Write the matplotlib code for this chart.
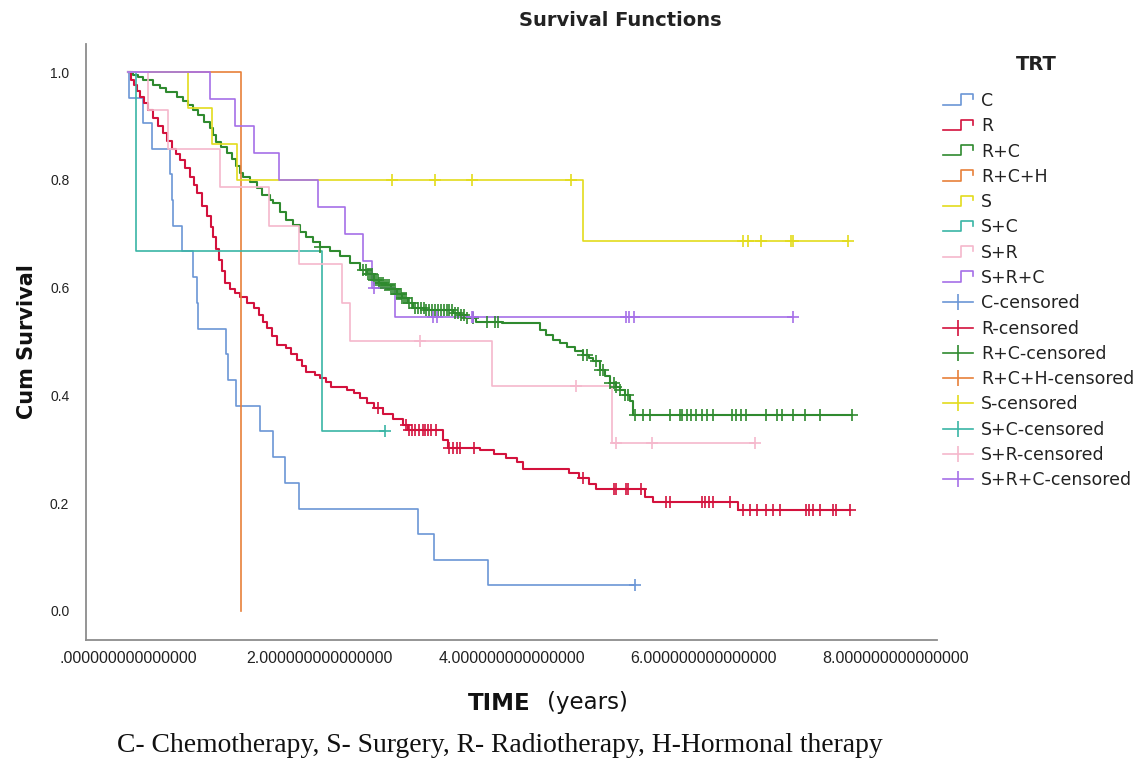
import numpy as np
import matplotlib
matplotlib.use('Agg')
import matplotlib.pyplot as plt
from matplotlib.lines import Line2D
from matplotlib.legend_handler import HandlerBase
from matplotlib.ticker import FuncFormatter

# survival steps: (time in years, cum survival after the step)
c_time = [0.0, 0.01, 0.16, 0.25, 0.44, 0.455, 0.47, 0.56, 0.68, 0.72, 0.73, 1.02, 1.04,
          1.125, 1.375, 1.51, 1.64, 1.78, 3.02, 3.19, 3.75]
c_surv = [1.0, 0.952, 0.905, 0.857, 0.810, 0.762, 0.714, 0.667, 0.619, 0.571, 0.524, 0.476,
          0.429, 0.381, 0.333, 0.286, 0.238, 0.190, 0.143, 0.095, 0.048]
c_cens = [5.28]

r_time = [0.0, 0.03, 0.06, 0.09, 0.13, 0.17, 0.21, 0.26, 0.31, 0.37, 0.41, 0.455, 0.50, 0.54,
          0.59, 0.65, 0.69, 0.72, 0.77, 0.82, 0.86, 0.89, 0.92, 0.95, 0.98, 1.01, 1.06, 1.12,
          1.17, 1.24, 1.31, 1.36, 1.41, 1.45, 1.50, 1.55, 1.65, 1.70, 1.76, 1.81, 1.86, 1.95,
          2.00, 2.06, 2.12, 2.28, 2.35, 2.42, 2.49, 2.56, 2.66, 2.76, 2.87, 2.92, 3.28, 3.33,
          3.67, 3.81, 3.94, 4.05, 4.12, 4.60, 4.70, 4.80, 4.88, 5.39, 5.47, 6.36]
r_surv = [1.0, 0.985, 0.975, 0.965, 0.954, 0.942, 0.929, 0.915, 0.900, 0.886, 0.872, 0.858,
          0.848, 0.837, 0.822, 0.806, 0.790, 0.775, 0.752, 0.732, 0.712, 0.694, 0.672, 0.651,
          0.630, 0.608, 0.598, 0.590, 0.583, 0.572, 0.562, 0.550, 0.537, 0.525, 0.510, 0.494,
          0.488, 0.477, 0.466, 0.455, 0.444, 0.438, 0.432, 0.424, 0.416, 0.410, 0.404, 0.395,
          0.385, 0.376, 0.366, 0.357, 0.345, 0.336, 0.318, 0.302, 0.298, 0.292, 0.283, 0.276,
          0.263, 0.255, 0.246, 0.236, 0.226, 0.212, 0.202, 0.187]
r_cens = [2.61, 2.90, 2.93, 2.96, 2.99, 3.03, 3.07, 3.10, 3.13, 3.16, 3.21, 3.35, 3.39, 3.43,
          3.46, 3.61, 4.74, 5.06, 5.09, 5.19, 5.21, 5.35, 5.61, 5.65, 5.98, 6.01, 6.05, 6.10,
          6.27, 6.41, 6.48, 6.55, 6.65, 6.72, 6.79, 7.07, 7.10, 7.14, 7.21, 7.35, 7.38, 7.52]

rc_time = [0.0, 0.05, 0.10, 0.16, 0.26, 0.33, 0.40, 0.51, 0.57, 0.63, 0.68, 0.73, 0.79, 0.85,
           0.89, 0.92, 0.97, 1.03, 1.08, 1.13, 1.17, 1.20, 1.27, 1.34, 1.40, 1.48, 1.51, 1.58,
           1.65, 1.72, 1.79, 1.86, 1.93, 2.00, 2.10, 2.21, 2.31, 2.42, 2.49, 2.56, 2.62, 2.67,
           2.74, 2.80, 2.86, 2.92, 2.97, 3.11, 3.39, 3.46, 3.53, 3.63, 3.90, 4.29, 4.36, 4.43,
           4.50, 4.57, 4.66, 4.74, 4.80, 4.85, 4.92, 4.97, 5.02, 5.08, 5.13, 5.18, 5.23, 5.26]
rc_surv = [1.0, 0.995, 0.990, 0.985, 0.976, 0.970, 0.963, 0.954, 0.947, 0.939, 0.930, 0.920,
           0.908, 0.896, 0.884, 0.871, 0.860, 0.850, 0.838, 0.825, 0.812, 0.806, 0.795, 0.785,
           0.772, 0.763, 0.757, 0.741, 0.725, 0.716, 0.704, 0.693, 0.685, 0.676, 0.667, 0.658,
           0.645, 0.633, 0.625, 0.614, 0.609, 0.604, 0.597, 0.589, 0.580, 0.571, 0.562, 0.558,
           0.553, 0.549, 0.544, 0.537, 0.534, 0.521, 0.512, 0.503, 0.497, 0.490, 0.482, 0.475,
           0.469, 0.463, 0.447, 0.435, 0.423, 0.416, 0.410, 0.400, 0.389, 0.364]
rc_cens = [2.00, 2.45, 2.48, 2.50, 2.52, 2.54, 2.56, 2.58, 2.60, 2.62, 2.64, 2.66, 2.68, 2.70,
           2.72, 2.74, 2.76, 2.78, 2.80, 2.82, 2.84, 2.86, 2.88, 2.90, 2.93, 2.96, 2.99, 3.02,
           3.05, 3.08, 3.11, 3.14, 3.17, 3.20, 3.23, 3.26, 3.29, 3.32, 3.35, 3.38, 3.41, 3.44,
           3.47, 3.50, 3.53, 3.60, 3.74, 3.82, 3.86, 4.74, 4.78, 4.88, 4.92, 4.95, 5.02, 5.06,
           5.09, 5.13, 5.18, 5.21, 5.28, 5.37, 5.44, 5.65, 5.75, 5.77, 5.82, 5.87, 5.92, 5.98,
           6.03, 6.10, 6.29, 6.34, 6.39, 6.44, 6.65, 6.76, 6.81, 6.93, 7.05, 7.21, 7.54]

rch_time = [0.0, 1.18]
rch_surv = [1.0, 0.0]
rch_cens = []

s_time = [0.0, 0.63, 0.88, 1.14, 4.74]
s_surv = [1.0, 0.933, 0.867, 0.800, 0.687]
s_cens = [2.75, 3.20, 3.58, 4.62, 6.41, 6.46, 6.60, 6.91, 6.93, 7.50]

sc_time = [0.0, 0.08, 2.02]
sc_surv = [1.0, 0.667, 0.333]
sc_cens = [2.68]

sr_time = [0.0, 0.205, 0.42, 0.96, 1.47, 1.78, 2.23, 2.31, 3.79, 5.04]
sr_surv = [1.0, 0.929, 0.857, 0.786, 0.714, 0.643, 0.571, 0.500, 0.417, 0.3125]
sr_cens = [3.04, 4.67, 5.09, 5.46, 6.53]

src_time = [0.0, 0.85, 1.11, 1.31, 1.57, 1.98, 2.26, 2.445, 2.54, 2.78]
src_surv = [1.0, 0.95, 0.90, 0.85, 0.80, 0.75, 0.70, 0.65, 0.60, 0.545]
src_cens = [2.56, 3.18, 3.22, 3.58, 3.60, 5.19, 5.22, 5.27, 6.93]

groups = ['C', 'R', 'R+C', 'R+C+H', 'S', 'S+C', 'S+R', 'S+R+C']
data = {
    'C': (c_time, c_surv, c_cens),
    'R': (r_time, r_surv, r_cens),
    'R+C': (rc_time, rc_surv, rc_cens),
    'R+C+H': (rch_time, rch_surv, rch_cens),
    'S': (s_time, s_surv, s_cens),
    'S+C': (sc_time, sc_surv, sc_cens),
    'S+R': (sr_time, sr_surv, sr_cens),
    'S+R+C': (src_time, src_surv, src_cens),
}
colors = {
    'C': '#6b96d6',
    'R': '#d3123d',
    'R+C': '#2f8a2f',
    'R+C+H': '#e8803a',
    'S': '#e3dc1c',
    'S+C': '#3ab5a5',
    'S+R': '#f5b8cc',
    'S+R+C': '#a66fe8',
}
widths = {'R': 1.5, 'R+C': 1.5}

W, H = 1137, 768


def px(x, y):
    return x / W, 1 - y / H


class StepHandler(HandlerBase):
    def create_artists(self, legend, orig_handle, xdescent, ydescent, width, height,
                       fontsize, trans):
        x0, y0 = -xdescent, -ydescent
        xm = x0 + 0.58 * width
        xs = [x0, xm, xm, x0 + width, x0 + width]
        ys = [y0 + 0.1 * height, y0 + 0.1 * height, y0 + 0.95 * height,
              y0 + 0.95 * height, y0 + 0.55 * height]
        ln = Line2D(xs, ys, color=orig_handle.get_color(), lw=1.2)
        ln.set_transform(trans)
        return [ln]


fig = plt.figure(figsize=(W / 100, H / 100), dpi=100)
ax = fig.add_axes([86 / W, 1 - 640 / H, (937 - 86) / W, (640 - 44) / H])

for g in groups:
    t, s, cens = data[g]
    end = max(t[-1], max(cens) if cens else t[-1])
    ax.plot(list(t) + [end], list(s) + [s[-1]], drawstyle='steps-post',
            color=colors[g], lw=widths.get(g, 1.2))

for g in groups:
    t, s, cens = data[g]
    if not cens:
        continue
    idx = np.searchsorted(t, cens, side='right') - 1
    ax.plot(cens, np.asarray(s)[idx], ls='none', marker='+', ms=9, mew=1.2,
            color=colors[g])

ax.set_xlim(-0.4375, 8.43)
ax.set_ylim(-0.054, 1.052)
ax.set_xticks([0, 2, 4, 6, 8])
ax.set_yticks([0, 0.2, 0.4, 0.6, 0.8, 1.0])
ax.xaxis.set_major_formatter(FuncFormatter(
    lambda v, p: f'{v:.15f}'.lstrip('0') if v == 0 else f'{v:.15f}'))
ax.yaxis.set_major_formatter(FuncFormatter(lambda v, p: f'{v:.1f}'))
ax.tick_params(axis='x', length=0, pad=8, labelsize=11.5, labelcolor='#222222')
ax.tick_params(axis='y', length=0, pad=12, labelsize=10, labelcolor='#222222')
for lab in ax.get_xticklabels() + ax.get_yticklabels():
    lab.set_family('Liberation Sans')
for side in ['top', 'right']:
    ax.spines[side].set_visible(False)
for side in ['left', 'bottom']:
    ax.spines[side].set_color('#8c8c8c')
    ax.spines[side].set_linewidth(1.3)

handles = [Line2D([], [], color=colors[g]) for g in groups]
handles += [Line2D([], [], color=colors[g], lw=1.2, marker='|', ms=11, mew=1.2)
            for g in groups]
labels = groups + [g + '-censored' for g in groups]
leg = ax.legend(handles, labels, loc='upper left', bbox_to_anchor=px(943, 92),
                bbox_transform=fig.transFigure, frameon=False, borderpad=0,
                borderaxespad=0, handlelength=1.75, handletextpad=0.45,
                labelspacing=0.42, prop={'family': 'DejaVu Sans', 'size': 12.5},
                handler_map={h: StepHandler() for h in handles[:8]})
for txt in leg.get_texts():
    txt.set_color('#222222')

fig.text(*px(1036, 64), 'TRT', ha='center', va='center', fontsize=14,
         fontweight='bold', family='DejaVu Sans', color='#222222')
fig.text(*px(620, 20), 'Survival Functions', ha='center', va='center',
         fontsize=14, fontweight='bold', family='DejaVu Sans', color='#222222')
fig.text(*px(27, 342), 'Cum Survival', ha='center', va='center', rotation=90,
         fontsize=15, fontweight='bold', family='DejaVu Sans', color='#111111')
fig.text(*px(531, 703), 'TIME', ha='right', va='center', fontsize=16.5,
         fontweight='bold', family='DejaVu Sans', color='#111111')
fig.text(*px(547, 703), '(years)', ha='left', va='center', fontsize=16.5,
         family='DejaVu Sans', color='#111111')
fig.text(*px(117, 745), 'C- Chemotherapy, S- Surgery, R- Radiotherapy, H-Hormonal therapy',
         ha='left', va='center', fontsize=19.9, family='Liberation Serif', color='#111111')

fig.savefig('out.png', dpi=100)
